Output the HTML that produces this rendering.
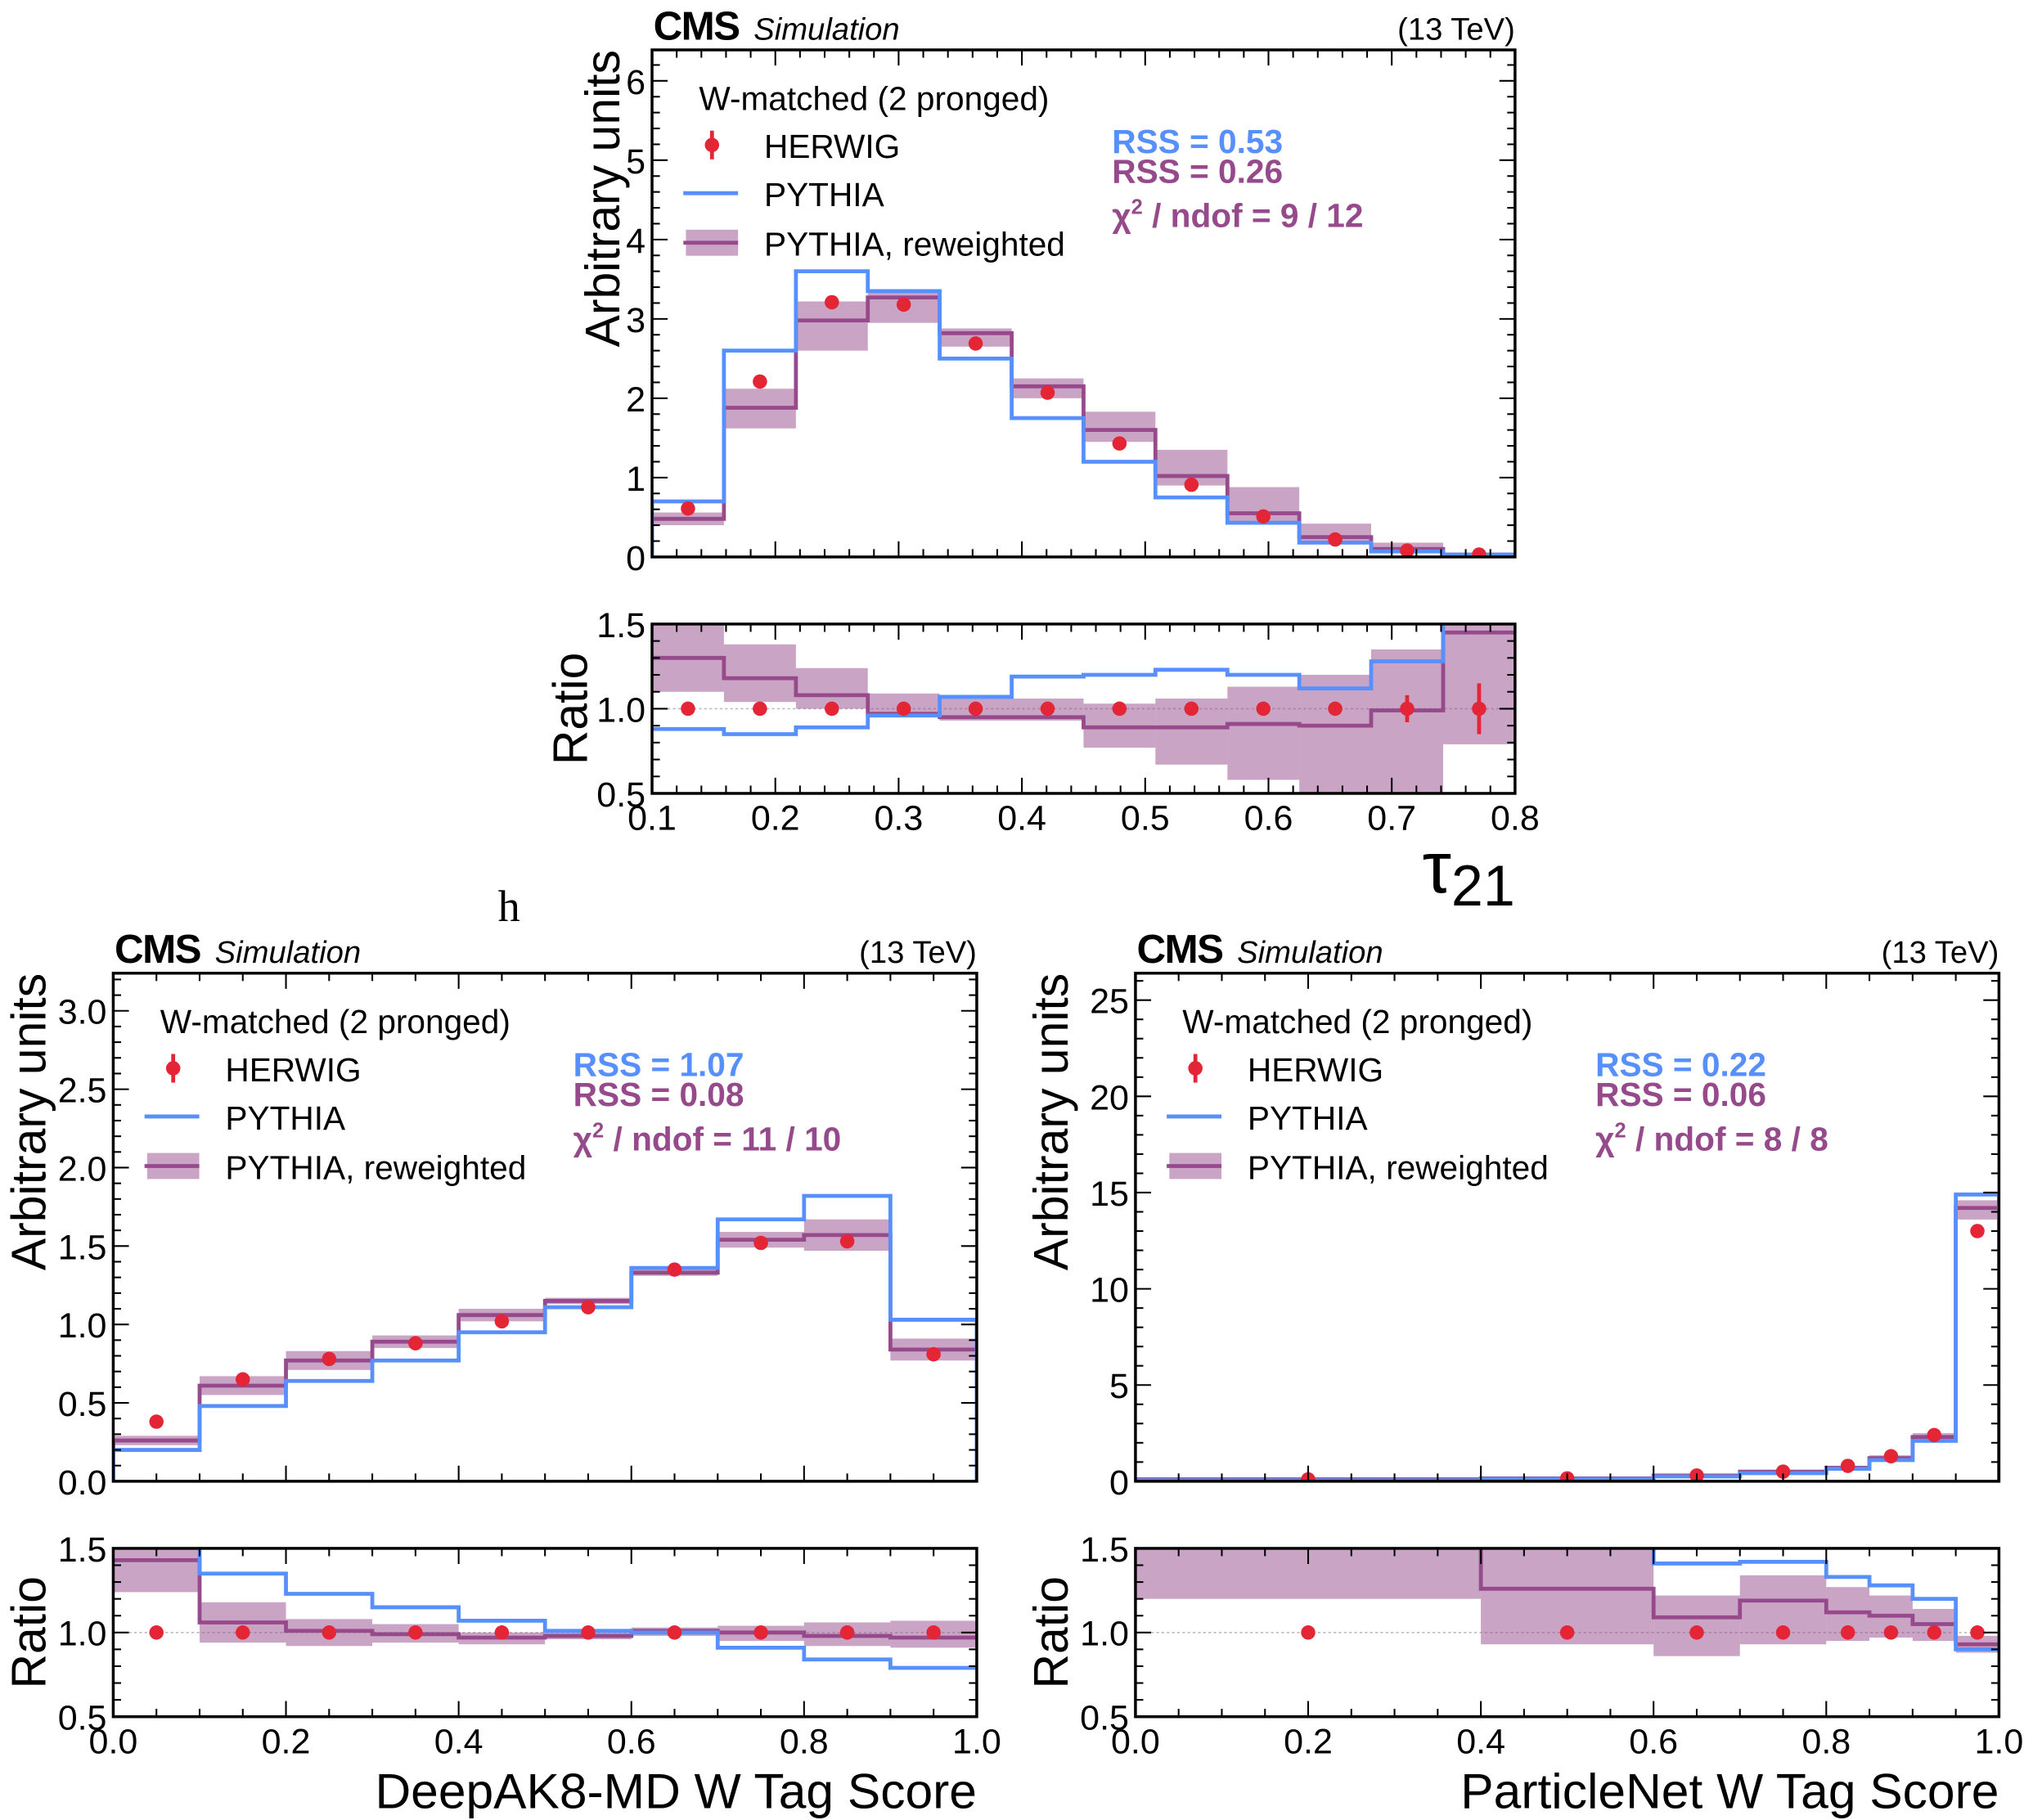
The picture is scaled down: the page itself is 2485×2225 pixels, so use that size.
<!DOCTYPE html>
<html><head><meta charset="utf-8"><style>
html,body{margin:0;padding:0;background:#fff}
svg{display:block;font-family:"Liberation Sans",sans-serif}
</style></head><body>
<svg id="svg" width="2485" height="2225" viewBox="0 0 1560 1397" xmlns="http://www.w3.org/2000/svg">
<text x="382" y="707" font-family="Liberation Serif,serif" font-size="34">h</text>
</svg>
<script>
// ---- Panel A: tau21 ----
const aEdges=[0.1,0.1583,0.2167,0.275,0.3333,0.3917,0.45,0.5083,0.5667,0.625,0.6833,0.7417,0.8];
const aPythia=[0.7,2.6,3.6,3.35,2.5,1.75,1.2,0.75,0.43,0.18,0.07,0.03];
const aRew=[0.48,1.88,2.98,3.27,2.82,2.15,1.6,1.02,0.55,0.25,0.1,0.03];
const aRewLo=[0.4,1.62,2.6,2.95,2.65,2.0,1.45,0.9,0.45,0.2,0.07,0.02];
const aRewHi=[0.56,2.12,3.22,3.35,2.88,2.25,1.83,1.35,0.88,0.42,0.18,0.05];
const aHerwig=[0.61,2.21,3.21,3.18,2.69,2.07,1.43,0.91,0.51,0.22,0.08,0.03];
const aRatioPythia=[0.88,0.85,0.89,0.96,1.07,1.19,1.2,1.23,1.2,1.12,1.28,1.6];
const aRatioRew=[1.3,1.18,1.08,0.97,0.95,0.95,0.89,0.89,0.91,0.9,0.99,1.45];
const aRatioLo=[1.1,1.04,1.0,0.96,0.93,0.93,0.77,0.67,0.58,0.45,0.45,0.79];
const aRatioHi=[1.5,1.38,1.24,1.09,1.07,1.06,1.03,1.06,1.13,1.2,1.35,1.5];
const aHerwigErr=[0.01,0.01,0.01,0.01,0.01,0.01,0.01,0.01,0.01,0.04,0.08,0.15];
const aXTicks=[0.1,0.2,0.3,0.4,0.5,0.6,0.7,0.8];
const aYTicks=[0,1,2,3,4,5,6];
// ---- Panel B: DeepAK8-MD ----
const bEdges=[0,0.1,0.2,0.3,0.4,0.5,0.6,0.7,0.8,0.9,1.0];
const bPythia=[0.2,0.48,0.64,0.77,0.95,1.11,1.36,1.67,1.82,1.03];
const bRew=[0.26,0.61,0.77,0.89,1.06,1.15,1.33,1.54,1.57,0.84];
const bRewLo=[0.23,0.55,0.71,0.85,1.02,1.13,1.31,1.49,1.47,0.77];
const bRewHi=[0.29,0.67,0.83,0.93,1.1,1.17,1.35,1.59,1.67,0.91];
const bHerwig=[0.38,0.65,0.78,0.88,1.02,1.11,1.35,1.52,1.53,0.81];
const bRatioPythia=[1.6,1.35,1.23,1.15,1.07,1.01,1.0,0.91,0.84,0.79];
const bRatioRew=[1.43,1.06,1.01,0.99,0.97,0.98,1.01,1.0,0.98,0.97];
const bRatioLo=[1.24,0.94,0.92,0.94,0.93,0.96,0.98,0.95,0.92,0.91];
const bRatioHi=[1.5,1.18,1.08,1.05,1.0,1.0,1.03,1.04,1.06,1.07];
const bHerwigErr=[0.01,0.01,0.01,0.01,0.01,0.01,0.01,0.01,0.01,0.01];
const bXTicks=[0.0,0.2,0.4,0.6,0.8,1.0];
const bYTicks=[0.0,0.5,1.0,1.5,2.0,2.5,3.0];
// ---- Panel C: ParticleNet ----
const cEdges=[0,0.4,0.6,0.7,0.8,0.85,0.9,0.95,1.0];
const cPythia=[0.05,0.12,0.25,0.42,0.65,1.1,2.1,14.9];
const cRew=[0.1,0.15,0.3,0.5,0.7,1.2,2.3,14.2];
const cRewLo=[0.08,0.12,0.25,0.45,0.6,1.05,2.1,13.6];
const cRewHi=[0.12,0.18,0.35,0.55,0.8,1.35,2.5,14.6];
const cHerwig=[0.1,0.15,0.3,0.5,0.8,1.3,2.4,13.0];
const cRatioPythia=[1.6,1.6,1.41,1.42,1.33,1.28,1.2,0.9];
const cRatioRew=[1.6,1.26,1.09,1.19,1.12,1.1,1.05,0.93];
const cRatioLo=[1.2,0.93,0.86,0.93,0.95,0.97,0.95,0.88];
const cRatioHi=[1.5,1.5,1.22,1.34,1.27,1.22,1.14,0.98];
const cHerwigErr=[0.01,0.01,0.01,0.01,0.01,0.01,0.01,0.01];
const cXTicks=[0.0,0.2,0.4,0.6,0.8,1.0];
const cYTicks=[0,5,10,15,20,25];
const rTicks=[0.5,1.0,1.5];

const NS="http://www.w3.org/2000/svg";
const svg=document.getElementById('svg');
const BLUE="#5790fc",PURP="#964a8b",BAND="rgba(150,74,139,0.5)",RED="#e42536";
function mk(tag,attrs,parent){const e=document.createElementNS(NS,tag);for(const k in attrs)e.setAttribute(k,attrs[k]);(parent||svg).appendChild(e);return e;}
function txt(x,y,s,size,extra,parent){const t=mk('text',Object.assign({x:x,y:y,'font-size':size},extra||{}),parent);t.textContent=s;return t;}

function panel(P){
  const g=mk('g',{});
  
  
  const X=v=>P.x0+(v-P.xmin)/(P.xmax-P.xmin)*(P.x1-P.x0);
  const Y=v=>P.yb-(v/P.ymax)*(P.yb-P.yt);
  const R=v=>P.ry1-(v-0.5)/1.0*(P.ry1-P.ry0);
  const n=P.edges.length-1;
  const id=P.name;
  const defs=mk('defs',{},g);
  const c1=mk('clipPath',{id:id+'m'},defs);mk('rect',{x:P.x0,y:P.yt,width:P.x1-P.x0,height:P.yb-P.yt},c1);
  const c2=mk('clipPath',{id:id+'r'},defs);mk('rect',{x:P.x0,y:P.ry0,width:P.x1-P.x0,height:P.ry1-P.ry0},c2);
  const gm=mk('g',{'clip-path':'url(#'+id+'m)'},g);
  const gr=mk('g',{'clip-path':'url(#'+id+'r)'},g);
  for(let i=0;i<n;i++){
    const b=mk('rect',{x:X(P.edges[i]),y:Y(P.hi[i]),width:X(P.edges[i+1])-X(P.edges[i]),height:Y(P.lo[i])-Y(P.hi[i]),fill:BAND},gm);
    
    
  }
  function step(vals,f,col,parent,nm,base){
    let d='M'+X(P.edges[0])+','+f(base);
    for(let i=0;i<n;i++){d+=' L'+X(P.edges[i])+','+f(vals[i])+' L'+X(P.edges[i+1])+','+f(vals[i]);}
    d+=' L'+X(P.edges[n])+','+f(base);
    const p=mk('path',{d:d,fill:'none',stroke:col,'stroke-width':3},parent);
    
    
  }
  step(P.rew,Y,PURP,gm,'reweighted-line',0);
  step(P.py,Y,BLUE,gm,'pythia-line',0);
  for(let i=0;i<n;i++){
    const cx=(X(P.edges[i])+X(P.edges[i+1]))/2;
    const c=mk('circle',{cx:cx,cy:Y(P.hw[i]),r:5.5,fill:RED},gm);
    
    
  }
  mk('line',{x1:P.x0,x2:P.x1,y1:R(1),y2:R(1),stroke:'#bbb','stroke-width':1,'stroke-dasharray':'2,2'},gr);
  for(let i=0;i<n;i++){
    const b=mk('rect',{x:X(P.edges[i]),y:R(P.rhi[i]),width:X(P.edges[i+1])-X(P.edges[i]),height:R(P.rlo[i])-R(P.rhi[i]),fill:BAND},gr);
    
    
  }
  function rstep(vals,col,nm){
    let d='';
    for(let i=0;i<n;i++){d+=(i?' L':'M')+X(P.edges[i])+','+R(vals[i])+' L'+X(P.edges[i+1])+','+R(vals[i]);}
    const p=mk('path',{d:d,fill:'none',stroke:col,'stroke-width':3},gr);
    
    
  }
  rstep(P.rrew,PURP,'ratio-reweighted-line');
  rstep(P.rpy,BLUE,'ratio-pythia-line');
  for(let i=0;i<n;i++){
    const cx=(X(P.edges[i])+X(P.edges[i+1]))/2;
    mk('line',{x1:cx,x2:cx,y1:R(1-P.herr[i]),y2:R(1+P.herr[i]),stroke:RED,'stroke-width':3},gr);
    const c=mk('circle',{cx:cx,cy:R(1),r:5.5,fill:RED},gr);
    
    
  }
  mk('rect',{x:P.x0,y:P.yt,width:P.x1-P.x0,height:P.yb-P.yt,fill:'none',stroke:'#000','stroke-width':2.2},g);
  mk('rect',{x:P.x0,y:P.ry0,width:P.x1-P.x0,height:P.ry1-P.ry0,fill:'none',stroke:'#000','stroke-width':2.2},g);
  const xm=P.xminor;
  for(let v=P.xmin;v<=P.xmax+1e-9;v+=xm){
    const x=X(v);const maj=Math.abs(Math.round(v/P.xmajor)*P.xmajor-v)<1e-6;const L=maj?12:6;
    [[P.yb,-1],[P.yt,1],[P.ry1,-1],[P.ry0,1]].forEach(([y,s])=>mk('line',{x1:x,x2:x,y1:y,y2:y+s*L,stroke:'#000','stroke-width':1.3},g));
  }
  for(let v=0;v<=P.ymax+1e-9;v+=P.yminor){
    const y=Y(v);const maj=Math.abs(Math.round(v/P.ymajor)*P.ymajor-v)<1e-6;const L=maj?12:6;
    mk('line',{x1:P.x0,x2:P.x0+L,y1:y,y2:y,stroke:'#000','stroke-width':1.3},g);
    mk('line',{x1:P.x1,x2:P.x1-L,y1:y,y2:y,stroke:'#000','stroke-width':1.3},g);
  }
  for(let v=0.5;v<=1.5+1e-9;v+=0.1){
    const y=R(v);const maj=Math.abs(Math.round(v*2)/2-v)<1e-6;const L=maj?12:6;
    mk('line',{x1:P.x0,x2:P.x0+L,y1:y,y2:y,stroke:'#000','stroke-width':1.3},g);
    mk('line',{x1:P.x1,x2:P.x1-L,y1:y,y2:y,stroke:'#000','stroke-width':1.3},g);
  }
  P.yticks.forEach(v=>txt(P.x0-5,Y(v)+10,v.toFixed(P.ydec),27,{'text-anchor':'end'},g));
  rTicks.forEach(v=>txt(P.x0-5,R(v)+10,v.toFixed(1),27,{'text-anchor':'end'},g));
  P.xticks.forEach(v=>txt(X(v),P.ry1+28,v.toFixed(1),27,{'text-anchor':'middle'},g));
  txt(P.x0+1,P.yt-8,'CMS',31,{'font-weight':'bold','letter-spacing':'-1'},g);
  txt(P.x0+78,P.yt-8,'Simulation',24,{'font-style':'italic'},g);
  txt(P.x1,P.yt-8,'(13 TeV)',24,{'text-anchor':'end'},g);
  const yl=txt(0,0,'Arbitrary units',37,{transform:'translate('+(P.x0-P.yoff)+','+P.yt+') rotate(-90)','text-anchor':'end'},g);
  
  txt(0,0,'Ratio',37,{transform:'translate('+(P.x0-P.roff)+','+((P.ry0+P.ry1)/2)+') rotate(-90)','text-anchor':'middle'},g);
  const xt=txt(P.x1,P.xtitleY,'',P.xtitleSize,{'text-anchor':'end'},g);
  xt.innerHTML=P.xtitle;
  
  const lx=P.x0,ly=P.yt;
  const lg=mk('g',{},g);
  
  
  txt(lx+36,ly+46,'W-matched (2 pronged)',25.5,{},lg);
  mk('line',{x1:lx+46,x2:lx+46,y1:ly+62,y2:ly+84,stroke:RED,'stroke-width':3},lg);
  mk('circle',{cx:lx+46,cy:ly+73,r:5.5,fill:RED},lg);
  txt(lx+86,ly+83,'HERWIG',25.5,{},lg);
  mk('line',{x1:lx+24,x2:lx+66,y1:ly+110,y2:ly+110,stroke:BLUE,'stroke-width':3},lg);
  txt(lx+86,ly+120,'PYTHIA',25.5,{},lg);
  mk('rect',{x:lx+26,y:ly+138,width:40,height:20,fill:BAND},lg);
  mk('line',{x1:lx+24,x2:lx+66,y1:ly+148,y2:ly+148,stroke:PURP,'stroke-width':3},lg);
  txt(lx+86,ly+158,'PYTHIA, reweighted',25.5,{},lg);
  txt(lx+353,ly+79,'RSS = '+P.rss1,25.5,{'font-weight':'bold',fill:BLUE},lg);
  txt(lx+353,ly+102,'RSS = '+P.rss2,25.5,{'font-weight':'bold',fill:PURP},lg);
  const ch=txt(lx+353,ly+136,'',25.5,{'font-weight':'bold',fill:PURP},lg);
  ch.innerHTML='χ<tspan dy="-10" font-size="16">2</tspan><tspan dy="10"> / ndof = '+P.chi+'</tspan>';
}

panel({name:'tau21-panel',x0:500.3,x1:1162.6,yt:38.3,yb:427.5,ry0:479,ry1:609,xmin:0.1,xmax:0.8,ymax:6.39,
 edges:aEdges,py:aPythia,rew:aRew,lo:aRewLo,hi:aRewHi,hw:aHerwig,rpy:aRatioPythia,rrew:aRatioRew,rlo:aRatioLo,rhi:aRatioHi,herr:aHerwigErr,
 xticks:aXTicks,yticks:aYTicks,ydec:0,xmajor:0.1,xminor:0.02,ymajor:1,yminor:0.2,yoff:25,roff:50,
 xtitle:'<tspan font-size="56">τ</tspan><tspan dy="10" font-size="44">21</tspan>',xtitleY:685,xtitleSize:44,rss1:'0.53',rss2:'0.26',chi:'9 / 12'});
panel({name:'deepak8-panel',x0:86.8,x1:749.5,yt:747,yb:1137,ry0:1188.5,ry1:1317.7,xmin:0,xmax:1,ymax:3.24,
 edges:bEdges,py:bPythia,rew:bRew,lo:bRewLo,hi:bRewHi,hw:bHerwig,rpy:bRatioPythia,rrew:bRatioRew,rlo:bRatioLo,rhi:bRatioHi,herr:bHerwigErr,
 xticks:bXTicks,yticks:bYTicks,ydec:1,xmajor:0.2,xminor:0.05,ymajor:0.5,yminor:0.1,yoff:52,roff:52,
 xtitle:'DeepAK8-MD W Tag Score',xtitleY:1388,xtitleSize:38,rss1:'1.07',rss2:'0.08',chi:'11 / 10'});
panel({name:'particlenet-panel',x0:871.3,x1:1534,yt:747,yb:1137,ry0:1188.5,ry1:1317.7,xmin:0,xmax:1,ymax:26.4,
 edges:cEdges,py:cPythia,rew:cRew,lo:cRewLo,hi:cRewHi,hw:cHerwig,rpy:cRatioPythia,rrew:cRatioRew,rlo:cRatioLo,rhi:cRatioHi,herr:cHerwigErr,
 xticks:cXTicks,yticks:cYTicks,ydec:0,xmajor:0.2,xminor:0.05,ymajor:5,yminor:1,yoff:52,roff:52,
 xtitle:'ParticleNet W Tag Score',xtitleY:1388,xtitleSize:38,rss1:'0.22',rss2:'0.06',chi:'8 / 8'});
</script>
</body></html>
